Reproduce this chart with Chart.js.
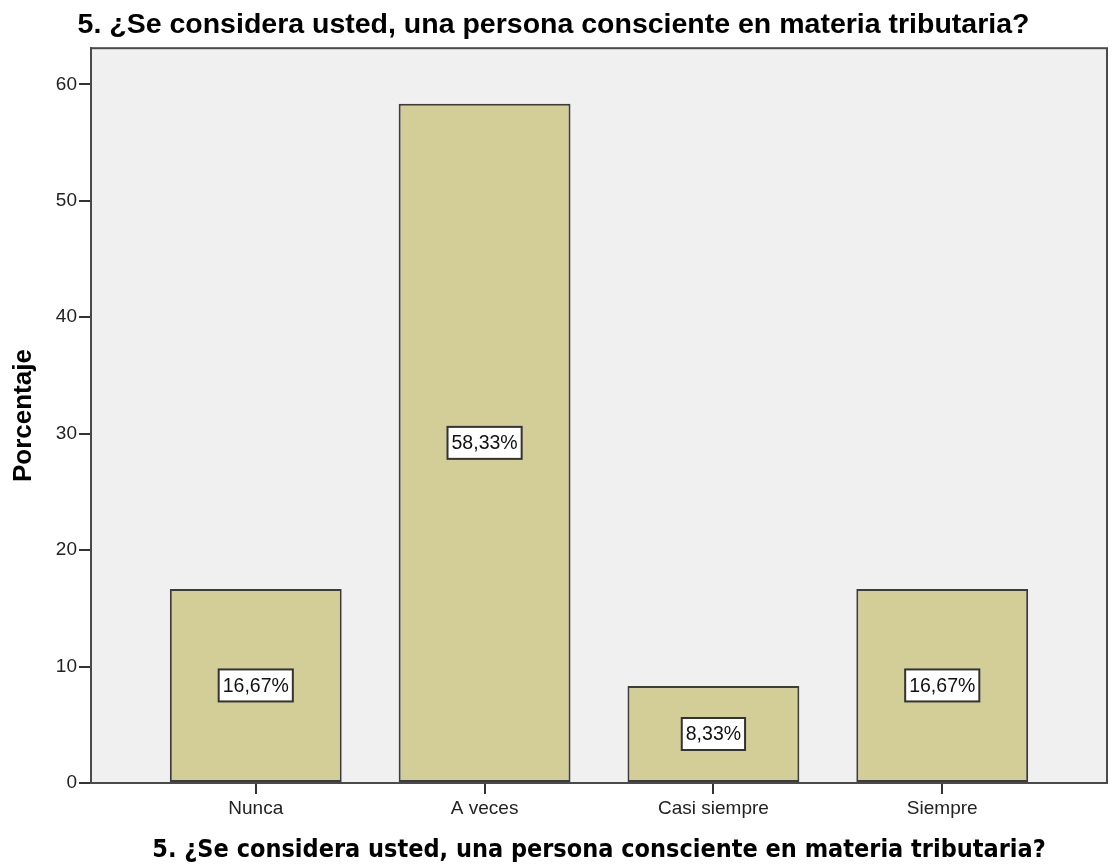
<!DOCTYPE html>
<html>
<head>
<meta charset="utf-8">
<script src="https://cdn.jsdelivr.net/npm/chart.js@4.4.0/dist/chart.umd.min.js"></script>
<style>
  html, body { margin: 0; padding: 0; background: #fff; }
  #wrap { width: 1113px; height: 865px; }
</style>
</head>
<body>
<div id="wrap"><canvas id="chart" width="1113" height="865"></canvas></div>
<script>
const categories = ["Nunca", "A veces", "Casi siempre", "Siempre"];
const percents = [16.67, 58.33, 8.33, 16.67];
const valueLabels = ["16,67%", "58,33%", "8,33%", "16,67%"];
const yTicks = [0, 10, 20, 30, 40, 50, 60];

const chartTitle = "5. ¿Se considera usted, una persona consciente en materia tributaria?";

// gray plot area with a frame, like the SPSS output
const plotFrame = {
  id: "plotFrame",
  beforeDraw(chart) {
    const { ctx, chartArea: a } = chart;
    ctx.save();
    ctx.fillStyle = "#f0f0f0";
    ctx.fillRect(a.left, a.top, a.right - a.left, a.bottom - a.top);
    ctx.restore();
  },
  afterDraw(chart) {
    const { ctx, chartArea: a } = chart;
    ctx.save();
    ctx.strokeStyle = "#4a4a4a";
    ctx.lineWidth = 2;
    ctx.strokeRect(a.left, a.top, a.right - a.left, a.bottom - a.top);
    ctx.restore();
  }
};

// boxed value labels in the middle of each bar
const boxLabels = {
  id: "boxLabels",
  afterDatasetsDraw(chart) {
    const { ctx } = chart;
    const meta = chart.getDatasetMeta(0);
    ctx.save();
    ctx.font = "19.5px 'Liberation Sans', Arial, sans-serif";
    ctx.textAlign = "center";
    ctx.textBaseline = "middle";
    meta.data.forEach((bar, i) => {
      const txt = valueLabels[i];
      const cx = bar.x;
      const cy = (bar.y + bar.base) / 2;
      const w = ctx.measureText(txt).width + 8;
      const h = 32;
      ctx.fillStyle = "#ffffff";
      ctx.fillRect(cx - w / 2, cy - h / 2, w, h);
      ctx.strokeStyle = "#333";
      ctx.lineWidth = 2;
      ctx.strokeRect(cx - w / 2, cy - h / 2, w, h);
      ctx.fillStyle = "#111";
      ctx.fillText(txt, cx, cy + 1);
    });
    ctx.restore();
  }
};

new Chart(document.getElementById("chart"), {
  type: "bar",
  data: {
    datasets: [{
      label: "Porcentaje",
      data: percents.map((v, i) => ({ x: i, y: v })),
      backgroundColor: "#d3ce98",
      borderColor: "#3c3c3c",
      borderWidth: 2,
      borderSkipped: false,
      barPercentage: 0.751,
      categoryPercentage: 1
    }]
  },
  options: {
    responsive: false,
    animation: false,
    layout: { padding: { top: 0, right: 6, bottom: 0, left: 0 } },
    plugins: {
      legend: { display: false },
      tooltip: { enabled: false },
      title: {
        display: true,
        text: chartTitle,
        color: "#000",
        font: { family: "'Liberation Sans', Arial, sans-serif", size: 28.5, weight: "bold", lineHeight: 1.2 },
        padding: { top: 8, bottom: 6 }
      }
    },
    scales: {
      x: {
        type: "linear",
        offset: false,
        min: -0.72,
        max: 3.72,
        afterBuildTicks(axis) { axis.ticks = categories.map((c, i) => ({ value: i })); },
        afterFit(axis) { axis.height = 82; },
        ticks: {
          callback: (v) => categories[v],
          color: "#222",
          font: { family: "'Liberation Sans', Arial, sans-serif", size: 19 },
          padding: 3,
          maxRotation: 0
        },
        grid: { offset: false, drawOnChartArea: false, drawTicks: true, tickLength: 11, color: "#333", lineWidth: 2 },
        border: { display: true, color: "#4a4a4a", width: 2 },
        title: {
          display: true,
          text: chartTitle,
          color: "#000",
          font: { family: "'DejaVu Sans Condensed', 'DejaVu Sans', sans-serif", size: 25, weight: "bold", lineHeight: 1.2 },
          padding: { top: 0, bottom: 0 }
        }
      },
      y: {
        min: 0,
        max: 63.1,
        afterBuildTicks(axis) { axis.ticks = yTicks.map(v => ({ value: v })); },
        afterFit(axis) { axis.width = 91; },
        ticks: {
          color: "#222",
          font: { family: "'Liberation Sans', Arial, sans-serif", size: 19 },
          padding: 2
        },
        grid: { drawOnChartArea: false, drawTicks: true, tickLength: 12, color: "#333", lineWidth: 2 },
        border: { display: true, color: "#4a4a4a", width: 2 },
        title: {
          display: true,
          text: "Porcentaje",
          color: "#000",
          font: { family: "'Liberation Sans', Arial, sans-serif", size: 26, weight: "bold", lineHeight: 1.2 },
          padding: { top: 8, bottom: 0 }
        }
      }
    }
  },
  plugins: [plotFrame, boxLabels]
});
</script>
</body>
</html>
